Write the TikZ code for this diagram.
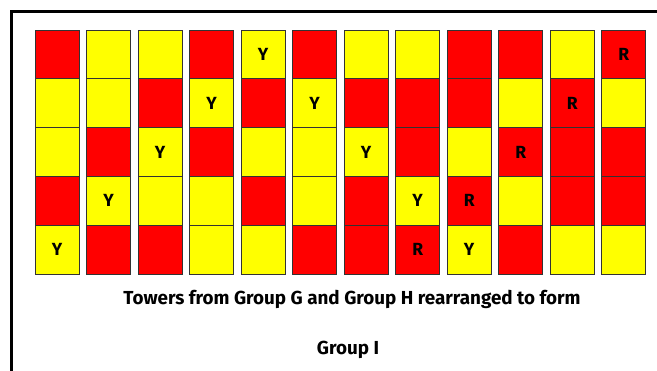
\documentclass[tikz,border=0pt]{standalone}
\usepackage{fontspec}
\setmainfont{Fira Sans}
\definecolor{towerred}{HTML}{FF0000}
\definecolor{toweryellow}{HTML}{FFFF00}
\begin{document}
\begin{tikzpicture}[
  cell/.style={draw=black!80, line width=0.6pt, minimum width=1.11cm, minimum height=1.22cm, inner sep=0pt, font=\bfseries\fontsize{12.5}{14}\selectfont},
  cell r/.style={fill=towerred},
  cell y/.style={fill=toweryellow},
  caption/.style={font=\bfseries\fontsize{13.4}{15}\selectfont}]
\useasboundingbox (0,0) rectangle (16.425,-9.275);
\draw[line width=2.6pt, line join=miter] (16.5,-0.29) -- (0.29,-0.29) -- (0.29,-9.4);
\foreach \cells [count=\i from 0] in {
  {r/{},y/{},y/{},r/{},y/Y},
  {y/{},y/{},r/{},y/Y,r/{}},
  {y/{},r/{},y/Y,y/{},r/{}},
  {r/{},y/Y,r/{},y/{},y/{}},
  {y/Y,r/{},y/{},r/{},y/{}},
  {r/{},y/Y,y/{},y/{},r/{}},
  {y/{},r/{},y/Y,r/{},r/{}},
  {y/{},r/{},r/{},y/Y,r/R},
  {r/{},r/{},y/{},r/R,y/Y},
  {r/{},y/{},r/R,y/{},r/{}},
  {y/{},r/R,r/{},r/{},y/{}},
  {r/R,y/{},r/{},r/{},y/{}}}
  \foreach \f/\t [count=\j from 0] in \cells
    \node[cell, cell \f] (c-\i-\j) at ({1.43+1.2875*\i},{-1.36-1.22*\j}) {\t};
\node[caption] (line1) at (8.8,-7.48) {Towers from Group G and Group H rearranged to form};
\node[caption] (line2) at (8.7,-8.75) {Group I};
\end{tikzpicture}
\end{document}
